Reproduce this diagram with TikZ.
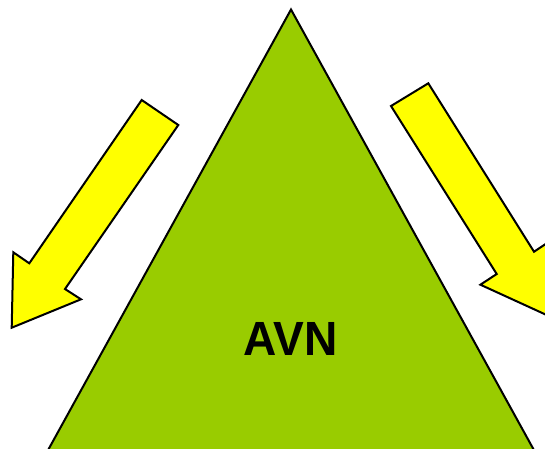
\documentclass[tikz,border=0pt]{standalone}
\usepackage{fontspec}
\setmainfont{Liberation Sans}
\definecolor{avngreen}{HTML}{99CC00}
\definecolor{arrowyellow}{HTML}{FFFF00}
\begin{document}
\begin{tikzpicture}[x=1pt,y=-1pt,
  outline/.style={draw=black,line width=2,line join=miter},
  tri/.style={outline,fill=avngreen},
  bigarrow/.style={outline,fill=arrowyellow},
  label/.style={font=\fontsize{48}{56}\selectfont\bfseries,text=black,inner sep=0pt,xscale=0.96}]
\useasboundingbox (0,0) rectangle (545,448);
\clip (0,0) rectangle (545,448);
\fill[white] (0,0) rectangle (545,448);
% triangle
\draw[tri] (291,9.5) -- (532.8+40*0.5515,448+40) -- (49.2-40*0.5515,448+40) -- cycle;
% left arrow
\draw[bigarrow] (141.7,100) -- (178.3,125) -- (65,289) -- (81,299.3) -- (11.7,327.7) -- (13.3,252.3) -- (29.3,263.3) -- cycle;
% right arrow
\draw[bigarrow] (428.3,83.3) -- (391,106) -- (496.7,274) -- (480.4,284.7) -- (548.8,316) -- (550.2,240.9) -- (534,251.7) -- cycle;
\node[label] (avn) at (290.7,339.2) {AVN};
\end{tikzpicture}
\end{document}
